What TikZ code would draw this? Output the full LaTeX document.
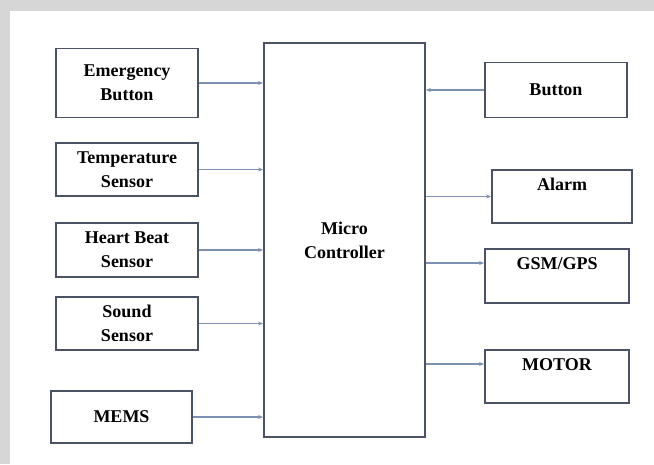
\documentclass[tikz,border=0pt]{standalone}
\usepackage{fontspec}
\setmainfont{Liberation Serif}
\usetikzlibrary{arrows.meta}
\definecolor{bgGrey}{HTML}{D6D6D6}
\definecolor{boxLine}{HTML}{4A5366}
\definecolor{wire}{HTML}{7D91B3}
\begin{document}
\begin{tikzpicture}[x=1pt,y=-1pt,
  blk/.style={draw=boxLine, line width=1.8pt, fill=white, inner sep=0pt, align=center,
    font=\fontsize{18}{24}\selectfont\bfseries},
  lbl/.style={inner sep=0pt, anchor=base, font=\fontsize{18}{24}\selectfont\bfseries},
  wireln/.style={draw=wire, line width=1.2pt, -{Stealth[length=5pt,width=4pt]}}]
\fill[bgGrey] (0,0) rectangle (654,464);
\fill[white] (10,11) rectangle (654,464);
\useasboundingbox (0,0) rectangle (654,464);

% left inputs
\node[blk, minimum width=142pt, minimum height=69pt] (emg)   at (127,83)    {Emergency\\Button};
\node[blk, minimum width=142pt, minimum height=53pt] (temp)  at (127,169.5) {Temperature\\Sensor};
\node[blk, minimum width=142pt, minimum height=54pt] (heart) at (127,250)   {Heart Beat\\Sensor};
\node[blk, minimum width=142pt, minimum height=53pt] (sound) at (127,323.5) {Sound\\Sensor};
\node[blk, minimum width=141pt, minimum height=52pt] (mems)  at (121.5,417) {MEMS};

% controller
\node[blk, minimum width=161pt, minimum height=394pt] (micro) at (344.5,240) {Micro\\Controller};

% right side
\node[blk, minimum width=142pt, minimum height=55pt] (btn)   at (556,90)    {Button};
\node[blk, minimum width=140pt, minimum height=53pt] (alarm) at (562,196.5) {};
\node[blk, minimum width=144pt, minimum height=54pt] (gsm)   at (557,276)   {};
\node[blk, minimum width=144pt, minimum height=53pt] (motor) at (557,376.5) {};
\node[lbl] (alarmlbl) at (562,190) {Alarm};
\node[lbl] (gsmlbl)   at (557,269) {GSM/GPS};
\node[lbl] (motorlbl) at (557,370) {MOTOR};

% connectors
\draw[wireln] (emg.east)   -- (emg.east -| micro.west);
\draw[wireln] (temp.east)  -- (temp.east -| micro.west);
\draw[wireln] (heart.east) -- (heart.east -| micro.west);
\draw[wireln] (sound.east) -- (sound.east -| micro.west);
\draw[wireln] (mems.east)  -- (mems.east -| micro.west);
\draw[wireln] (btn.west) -- (btn.west -| micro.east);
\draw[wireln] (alarm.west -| micro.east) -- (alarm.west);
\draw[wireln] ([yshift=13pt]gsm.west -| micro.east) -- ([yshift=13pt]gsm.west);
\draw[wireln] ([yshift=12.5pt]motor.west -| micro.east) -- ([yshift=12.5pt]motor.west);
\end{tikzpicture}
\end{document}
